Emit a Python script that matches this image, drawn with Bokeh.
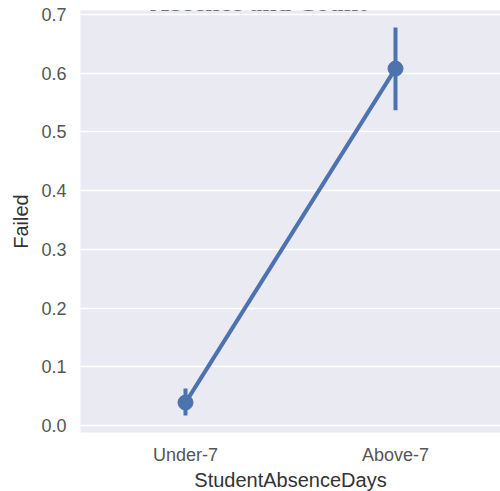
from bokeh.plotting import figure
from bokeh.models import ColumnDataSource, Label, FixedTicker, PrintfTickFormatter, FactorRange, Range1d
from bokeh.embed import file_html
from bokeh.resources import INLINE

# Share of failing students by absence group, with 95% confidence intervals
categories = ["Under-7", "Above-7"]
failed_mean = [0.039, 0.608]
ci_low = [0.017, 0.537]
ci_high = [0.063, 0.678]
y_ticks = [0.0, 0.1, 0.2, 0.3, 0.4, 0.5, 0.6, 0.7]

BLUE = "#4C72B0"

src = ColumnDataSource(data=dict(cat=categories, mean=failed_mean, lo=ci_low, hi=ci_high))

p = figure(
    x_range=FactorRange(*categories, range_padding=0),
    y_range=Range1d(-0.012, 0.707),
    width=500, height=491,
    frame_width=420, frame_height=422,
    min_border_left=80, min_border_top=10, min_border_right=0, min_border_bottom=59,
    output_backend="svg", toolbar_location=None,
)

p.background_fill_color = "#EAEAF2"
p.border_fill_color = "white"
p.outline_line_color = None

p.xgrid.grid_line_color = None
p.ygrid.grid_line_color = "white"
p.ygrid.grid_line_width = 1.5

p.yaxis.ticker = FixedTicker(ticks=y_ticks)
p.yaxis.formatter = PrintfTickFormatter(format="%.1f")

for ax in (p.xaxis, p.yaxis):
    ax.axis_line_color = None
    ax.major_tick_line_color = None
    ax.minor_tick_line_color = None
    ax.major_label_text_font = "Liberation Sans"
    ax.major_label_text_font_size = "18px"
    ax.major_label_text_color = "#555555"
    ax.axis_label_text_font = "Liberation Sans"
    ax.axis_label_text_font_size = "20px"
    ax.axis_label_text_font_style = "normal"
    ax.axis_label_text_color = "#333333"

p.xaxis.axis_label = "StudentAbsenceDays"
p.yaxis.axis_label = "Failed"
p.xaxis.major_label_standoff = 6
p.xaxis.axis_label_standoff = 1
p.yaxis.major_label_standoff = 8
p.yaxis.axis_label_standoff = 6

# confidence interval bars
p.segment(x0="cat", y0="lo", x1="cat", y1="hi", source=src, line_color=BLUE, line_width=4)
# connecting line and point estimates
p.line(x="cat", y="mean", source=src, line_color=BLUE, line_width=4)
p.scatter(x="cat", y="mean", source=src, size=15, fill_color=BLUE, line_color=BLUE)

# chart title, sitting just above the top edge of the page
title = Label(
    x=0.848, y=0.721, text="Absence and Count",
    text_font="Liberation Serif", text_font_size="26px", text_font_style="bold",
    text_color="black", text_align="center", text_baseline="alphabetic",
)
p.add_layout(title)

open("out.html", "w").write(file_html(p, INLINE))
